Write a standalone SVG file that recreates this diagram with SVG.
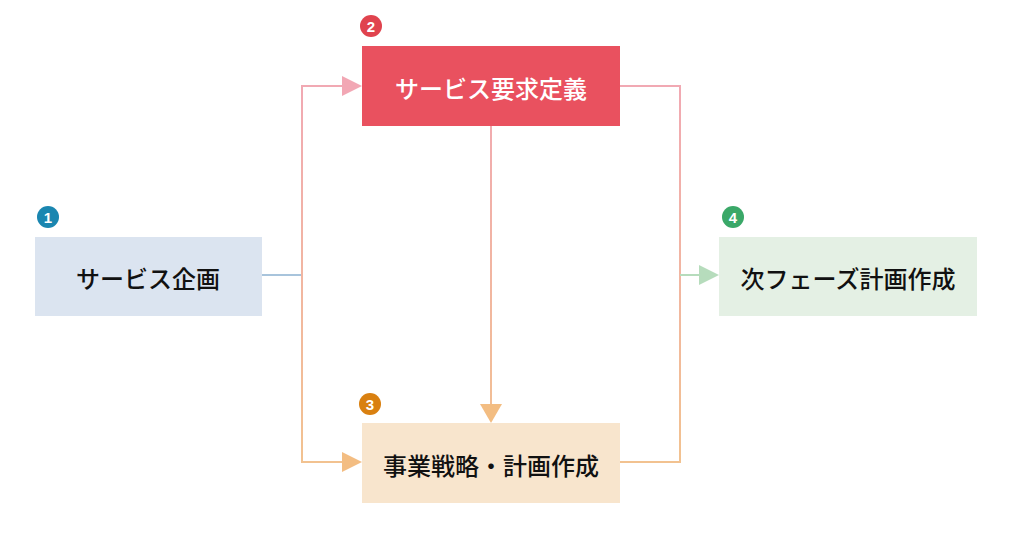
<svg xmlns="http://www.w3.org/2000/svg" width="1020" height="548" viewBox="0 0 1020 548">
<style>
.lbl{font-family:"Noto Sans CJK JP","Liberation Sans",sans-serif;font-size:24px;font-weight:500;text-anchor:middle;dominant-baseline:central}
.bn{font-family:"Liberation Sans",sans-serif;font-size:15px;font-weight:bold;fill:#fff;text-anchor:middle;dominant-baseline:central}
.ln{fill:none;stroke-width:2}
</style>
<defs>
<linearGradient id="g" gradientUnits="userSpaceOnUse" x1="0" y1="86" x2="0" y2="462">
<stop offset="0" stop-color="#f1a9b3"/><stop offset="1" stop-color="#f2c290"/>
</linearGradient>
</defs>
<g id="connectors">
<path class="ln" stroke="#a8c4dc" d="M262 275H302"/>
<path class="ln" stroke="url(#g)" d="M344 86H302V462H344"/>
<path class="ln" stroke="url(#g)" d="M620 86H680V462H620"/>
<path class="ln" stroke="url(#g)" d="M491 126V406"/>
<path class="ln" stroke="#b6dcbc" d="M680 275H700"/>
<polygon points="342,76 362,86 342,96" fill="#f2a7b4"/>
<polygon points="342,452 362,462 342,472" fill="#f3bd82"/>
<polygon points="480,404 502,404 491,423" fill="#f3bd82"/>
<polygon points="699,265 719,275 699,285" fill="#b6dcbc"/>
</g>
<g id="n1"><rect x="35" y="237" width="227" height="79" fill="#dbe4f0"/><text class="lbl" x="148" y="277" fill="#111">サービス企画</text>
<circle cx="48" cy="217" r="11" fill="#1a86b0"/><text class="bn" x="48" y="217">1</text></g>
<g id="n2"><rect x="362" y="46" width="258" height="80" fill="#e9515f"/><text class="lbl" x="491" y="87" fill="#fff">サービス要求定義</text>
<circle cx="371" cy="26" r="11" fill="#e0434e"/><text class="bn" x="371" y="26">2</text></g>
<g id="n3"><rect x="362" y="423" width="258" height="80" fill="#f8e5cd"/><text class="lbl" x="491" y="464" fill="#111">事業戦略・計画作成</text>
<circle cx="370" cy="404" r="11" fill="#d98010"/><text class="bn" x="370" y="404">3</text></g>
<g id="n4"><rect x="719" y="237" width="258" height="79" fill="#e4f0e4"/><text class="lbl" x="848" y="277" fill="#111">次フェーズ計画作成</text>
<circle cx="733" cy="217" r="11" fill="#3aa868"/><text class="bn" x="733" y="217">4</text></g>
</svg>
